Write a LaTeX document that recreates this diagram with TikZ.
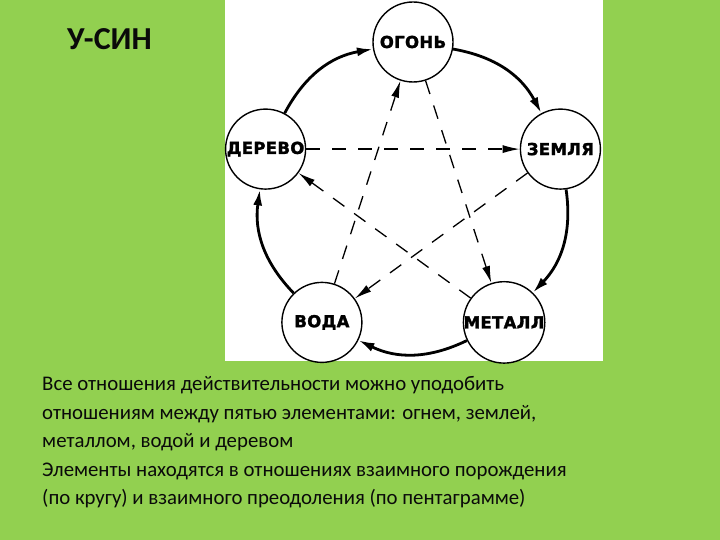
\documentclass[tikz,border=0pt]{standalone}
\usepackage{fontspec}
\setmainfont{Carlito}
\newfontfamily\lblfont{DejaVu Sans}[LetterSpace=2,FakeBold=1.8]
\usetikzlibrary{arrows.meta}
\definecolor{bggreen}{HTML}{92D050}
\definecolor{txt}{HTML}{0A0A0A}
\begin{document}
\begin{tikzpicture}[x=1pt,y=1pt,
  elem/.style={circle, draw, line width=1.4pt, fill=white, minimum size=80pt, inner sep=0pt,
    font=\lblfont\bfseries\fontsize{16.5}{17}\selectfont},
  gen/.style={line width=2.8pt, -{Latex[length=16pt,width=9pt]}, bend left=26},
  ctrl/.style={line width=1.3pt, dash pattern=on 14pt off 12pt, -{Latex[length=17pt,width=8pt]}},
  body/.style={anchor=base west, inner sep=0pt, text=txt, font=\fontsize{20.8}{25}\selectfont}
]
\useasboundingbox (0,0) rectangle (720,540);
\fill[bggreen] (0,0) rectangle (720,540);
\fill[white] (224.5,540) rectangle (602.5,178.5);
\coordinate (C) at (413,343);
\path (C) ++(90:155) node[elem] (ogon) {ОГОНЬ};
\path (C) ++(18:155) node[elem] (zemlya) {ЗЕМЛЯ};
\path (C) ++(-54:155) node[elem] (metall) {МЕТАЛЛ};
\path (C) ++(-126:155) node[elem] (voda) {ВОДА};
\path (C) ++(162:155) node[elem] (derevo) {ДЕРЕВО};
% generating cycle
\draw[gen] (ogon) to (zemlya);
\draw[gen] (zemlya) to (metall);
\draw[gen] (metall) to (voda);
\draw[gen] (voda) to (derevo);
\draw[gen] (derevo) to (ogon);
% controlling pentagram
\draw[ctrl] (ogon) -- (metall);
\draw[ctrl] (metall) -- (derevo);
\draw[ctrl] (derevo) -- (zemlya);
\draw[ctrl] (zemlya) -- (voda);
\draw[ctrl] (voda) -- (ogon);
% texts
\node[anchor=base west, inner sep=0pt, text=txt, font=\bfseries\fontsize{32}{38}\selectfont] (title) at (67,490) {У-СИН};
\node[body] (t1) at (42,149) {Все отношения действительности можно уподобить};
\node[body] (t2) at (42,120.6) {отношениям между пятью элементами: огнем, землей,};
\node[body] (t3) at (42,92.2) {металлом, водой и деревом};
\node[body] (t4) at (42,63.8) {Элементы находятся в отношениях взаимного порождения};
\node[body] (t5) at (42,35.4) {(по кругу) и взаимного преодоления (по пентаграмме)};
\end{tikzpicture}
\end{document}
